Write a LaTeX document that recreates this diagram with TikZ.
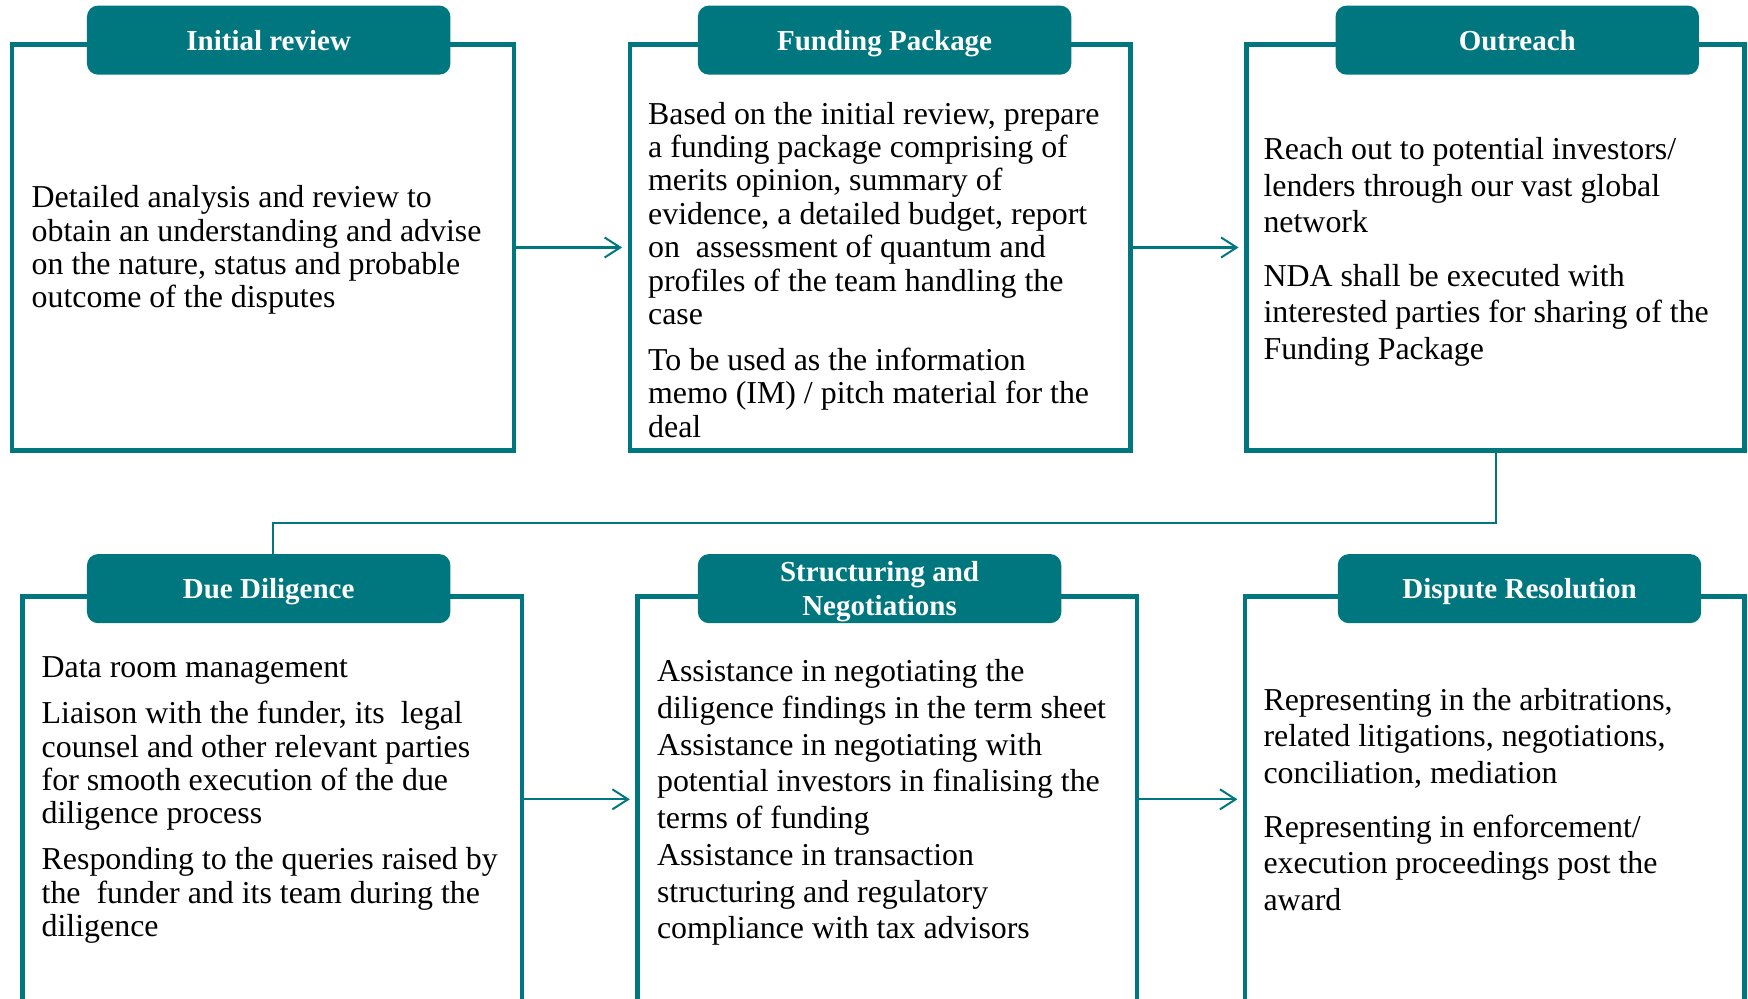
\documentclass[tikz,border=0pt]{standalone}
\usepackage{fontspec}
\setmainfont{Liberation Serif}
\usetikzlibrary{arrows.meta}
\definecolor{stageTeal}{RGB}{0,119,127}
\tikzset{
  %outer frame of a stage
  stageBox/.style = {rectangle, draw=stageTeal, line width=2pt, inner sep=0pt,
    minimum width=224pt, minimum height=182pt},
  %teal title tab
  stageHead/.style = {rectangle, fill=stageTeal, rounded corners=5pt, inner sep=0pt,
    minimum width=163pt, minimum height=31pt, text=white, align=center,
    text height=9pt, text depth=0pt,
    font=\bfseries\fontsize{13}{15}\selectfont},
  %body text
  stageText/.style = {anchor=north west, inner sep=0pt, align=left,
    font=\fontsize{14.3}{15}\selectfont},
  %wider leading
  stageTextWide/.style = {stageText, font=\fontsize{14.3}{16.4}\selectfont},
  flowArrow/.style = {draw=stageTeal, line width=0.9pt,
    -{Straight Barb[length=7pt,width=9pt]}, shorten >=2.5pt},
  flowLine/.style = {draw=stageTeal, line width=0.9pt}
}
\begin{document}
\begin{tikzpicture}[x=0.5pt,y=-0.5pt]
\useasboundingbox (0,0) rectangle (1568,896);
\clip (0,0) rectangle (1568,896);
%top row
\node [stageBox, minimum width=225pt] (review) at (236,222) {};
\node [stageBox, minimum width=224.5pt] (package) at (789.5,222) {};
\node [stageBox, minimum width=223.5pt] (outreach) at (1341.5,222) {};
%bottom row
\node [stageBox] (diligence) at (244,717) {};
\node [stageBox] (structuring) at (796,717) {};
\node [stageBox] (resolution) at (1341,717) {};
%title tabs
\node [stageHead] (reviewHead) at (241,36) {Initial review};
\node [stageHead, minimum width=167.5pt] (packageHead) at (793.5,36) {Funding Package};
\node [stageHead] (outreachHead) at (1361,36) {Outreach};
\node [stageHead] (diligenceHead) at (241,528) {Due Diligence};
\node [stageHead, text height=24pt] (structuringHead) at (789,528) {Structuring and\\Negotiations};
\node [stageHead] (resolutionHead) at (1363,528) {Dispute Resolution};
%texts
\node [stageText] (reviewText) at (28,166) {Detailed analysis and review to\\
  obtain an understanding and advise\\on the nature, status and probable\\
  outcome of the disputes};
\node [stageText] (packageText) at (581,91) {Based on the initial review, prepare\\
  a funding package comprising of\\merits opinion, summary of\\
  evidence, a detailed budget, report\\on~ assessment of quantum and\\
  profiles of the team handling the\\case\\[5.5pt]
  To be used as the information\\memo (IM) / pitch material for the\\deal};
\node [stageTextWide] (outreachText) at (1133,123) {Reach out to potential investors/\\
  lenders through our vast global\\network\\[7.6pt]
  NDA shall be executed with\\interested parties for sharing of the\\
  Funding Package};
\node [stageText] (diligenceText) at (37,589) {Data room management\\[5.5pt]
  Liaison with the funder, its~ legal\\counsel and other relevant parties\\
  for smooth execution of the due\\diligence process\\[5.5pt]
  Responding to the queries raised by\\the~ funder and its team during the\\
  diligence};
\node [stageText, font=\fontsize{14.3}{16.5}\selectfont] (structuringText) at (589,591)
  {Assistance in negotiating the\\diligence findings in the term sheet\\
  Assistance in negotiating with\\potential investors in finalising the\\
  terms of funding\\Assistance in transaction\\structuring and regulatory\\
  compliance with tax advisors};
\node [stageTextWide] (resolutionText) at (1133,617) {Representing in the arbitrations,\\
  related litigations, negotiations,\\conciliation, mediation\\[7.6pt]
  Representing in enforcement/\\execution proceedings post the\\award};
%connectors
\draw [flowArrow] (review) -- (package);
\draw [flowArrow] (package) -- (outreach);
\coordinate (bend) at (245,469);
\draw [flowLine] (outreach.south) |- (bend) -- (bend |- diligenceHead.north);
\draw [flowArrow] (diligence) -- (structuring);
\draw [flowArrow] (structuring) -- (resolution);
\end{tikzpicture}
\end{document}
